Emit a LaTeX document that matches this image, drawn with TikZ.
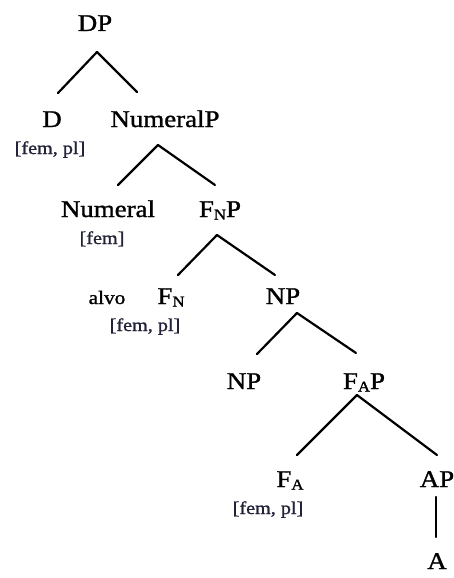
\documentclass[tikz,border=0pt]{standalone}
\usepackage{fontspec}
\setmainfont{Liberation Serif}[FakeStretch=1.12, FakeBold=1.2]
\usetikzlibrary{calc}
\definecolor{featc}{RGB}{34,34,56}
\tikzset{
  lab/.style={anchor=base, inner sep=0pt, font=\fontsize{24}{28}\selectfont, text=black},
  feat/.style={anchor=base, inner sep=0pt, font=\fontsize{18}{21}\selectfont, text=featc},
  word/.style={anchor=base, inner sep=0pt, font=\fontsize{19}{22}\selectfont, text=black},
  edge/.style={line width=2.2pt, line cap=round, line join=round}
}
\newcommand{\subsc}[1]{\raisebox{-2.5pt}{\fontsize{15}{15}\selectfont #1}}
\begin{document}
\begin{tikzpicture}[x=1pt,y=-1pt]
\useasboundingbox (0,0) rectangle (454,578);
% nodes (center x, baseline y)
\node[lab] (DP) at (95,31) {DP};
\node[lab] (D) at (52,127) {D};
\node[lab] (NumP) at (165,127) {NumeralP};
\node[feat] (fD) at (50,154) {[fem, pl]};
\node[lab] (Num) at (108,217) {Numeral};
\node[lab] (FNP) at (220,217) {F\subsc{N}P};
\node[feat] (fNum) at (102,244) {[fem]};
\node[word] (alvo) at (107,304) {alvo};
\node[lab] (FN) at (171,304) {F\subsc{N}};
\node[feat] (fFN) at (145,331) {[fem, pl]};
\node[lab] (NPa) at (283,304) {NP};
\node[lab] (NPb) at (244,389) {NP};
\node[lab] (FAP) at (364,389) {F\subsc{A}P};
\node[lab] (FA) at (290,487) {F\subsc{A}};
\node[feat] (fFA) at (268,514) {[fem, pl]};
\node[lab] (AP) at (437,487) {AP};
\node[lab] (A) at (437,569) {A};
% connectors (offsets relative to the base anchors)
\draw[edge] ([shift={(2,21)}]DP.base) -- ([shift={(6,-34)}]D.base);
\draw[edge] ([shift={(2,21)}]DP.base) -- ([shift={(-28,-35)}]NumP.base);
\draw[edge] ([shift={(-7,18)}]NumP.base) -- ([shift={(10,-32)}]Num.base);
\draw[edge] ([shift={(-7,18)}]NumP.base) -- ([shift={(-5,-32)}]FNP.base);
\draw[edge] ([shift={(-3,18)}]FNP.base) -- ([shift={(7,-29)}]FN.base);
\draw[edge] ([shift={(-3,18)}]FNP.base) -- ([shift={(-8,-29)}]NPa.base);
\draw[edge] ([shift={(14,9)}]NPa.base) -- ([shift={(13,-35)}]NPb.base);
\draw[edge] ([shift={(14,9)}]NPa.base) -- ([shift={(-8,-36)}]FAP.base);
\draw[edge] ([shift={(-7,6)}]FAP.base) -- ([shift={(7,-32)}]FA.base);
\draw[edge] ([shift={(-7,6)}]FAP.base) -- ([shift={(0,-32)}]AP.base);
\draw[edge] ([shift={(-1,10)}]AP.base) -- ([shift={(-1,-32)}]A.base);
\end{tikzpicture}
\end{document}
